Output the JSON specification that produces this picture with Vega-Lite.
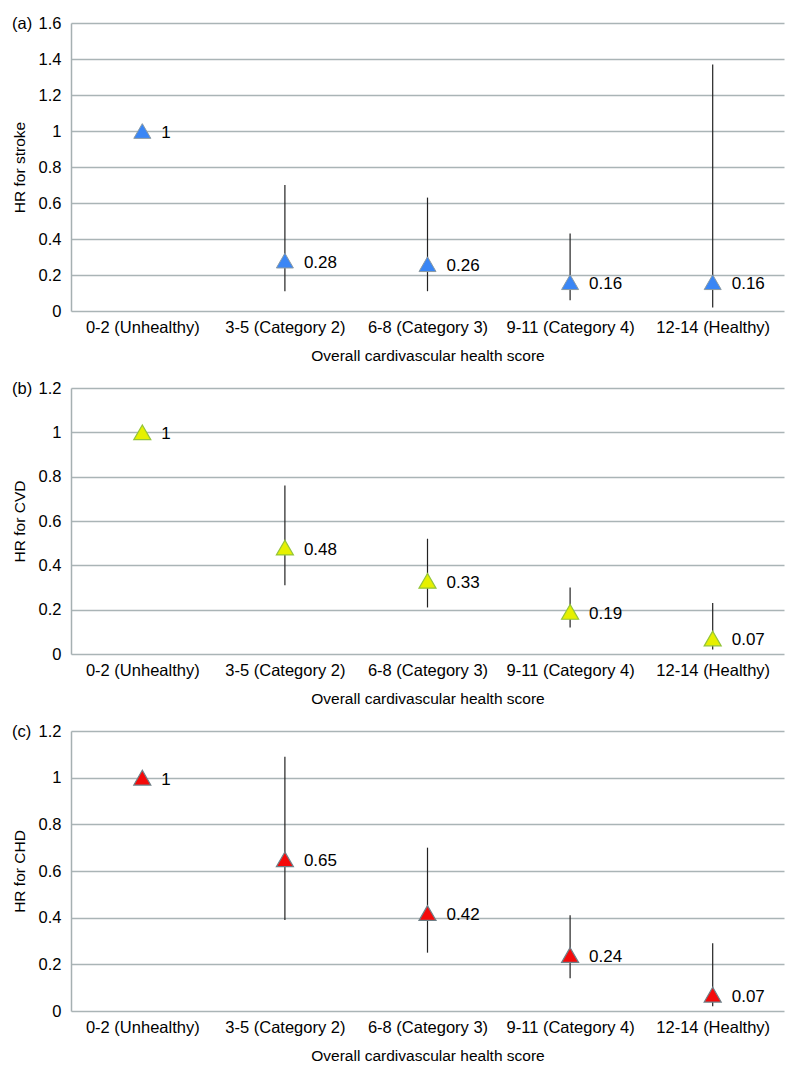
{
  "$schema": "https://vega.github.io/schema/vega-lite/v6.json",
  "background": "white",
  "padding": {"left": 12, "top": 15, "right": 14, "bottom": 5},
  "data": {"values": [
    {"outcome": "stroke", "category": "0-2 (Unhealthy)", "hr": 1, "lo": null, "hi": null},
    {"outcome": "stroke", "category": "3-5 (Category 2)", "hr": 0.28, "lo": 0.11, "hi": 0.70},
    {"outcome": "stroke", "category": "6-8 (Category 3)", "hr": 0.26, "lo": 0.11, "hi": 0.63},
    {"outcome": "stroke", "category": "9-11 (Category 4)", "hr": 0.16, "lo": 0.06, "hi": 0.43},
    {"outcome": "stroke", "category": "12-14 (Healthy)", "hr": 0.16, "lo": 0.02, "hi": 1.37},
    {"outcome": "CVD", "category": "0-2 (Unhealthy)", "hr": 1, "lo": null, "hi": null},
    {"outcome": "CVD", "category": "3-5 (Category 2)", "hr": 0.48, "lo": 0.31, "hi": 0.76},
    {"outcome": "CVD", "category": "6-8 (Category 3)", "hr": 0.33, "lo": 0.21, "hi": 0.52},
    {"outcome": "CVD", "category": "9-11 (Category 4)", "hr": 0.19, "lo": 0.12, "hi": 0.30},
    {"outcome": "CVD", "category": "12-14 (Healthy)", "hr": 0.07, "lo": 0.02, "hi": 0.23},
    {"outcome": "CHD", "category": "0-2 (Unhealthy)", "hr": 1, "lo": null, "hi": null},
    {"outcome": "CHD", "category": "3-5 (Category 2)", "hr": 0.65, "lo": 0.39, "hi": 1.09},
    {"outcome": "CHD", "category": "6-8 (Category 3)", "hr": 0.42, "lo": 0.25, "hi": 0.70},
    {"outcome": "CHD", "category": "9-11 (Category 4)", "hr": 0.24, "lo": 0.14, "hi": 0.41},
    {"outcome": "CHD", "category": "12-14 (Healthy)", "hr": 0.07, "lo": 0.02, "hi": 0.29}
  ]},
  "config": {
    "font": "Liberation Sans",
    "view": {"stroke": null},
    "title": {"fontSize": 16.5, "fontWeight": "normal", "color": "#000", "font": "Liberation Sans", "anchor": "start", "frame": "group", "orient": "top", "offset": 0, "baseline": "middle", "dx": -59, "dy": 21},
    "axisY": {"domainColor": "#a6b0b2", "domainWidth": 1.5, "ticks": false, "gridColor": "#aab4b6", "gridWidth": 1.5, "labelFontSize": 16.5, "labelColor": "#000", "labelPadding": 10, "labelOverlap": false, "titleFontSize": 15.5, "titleFontWeight": "normal", "titleColor": "#000", "titlePadding": 11, "format": ".1~f"},
    "axisX": {"domain": false, "ticks": false, "grid": false, "labelFontSize": 16.5, "labelColor": "#000", "labelPadding": 8, "labelAngle": 0, "titleFontSize": 15.5, "titleFontWeight": "normal", "titleColor": "#000", "titlePadding": 13}
  },
  "bounds": "flush",
  "spacing": 77,
  "vconcat": [
    {
      "title": {"text": "(a)"},
      "width": 713, "height": 288,
      "transform": [{"filter": "datum.outcome === 'stroke'"}],
      "encoding": {
        "x": {"field": "category", "type": "nominal", "sort": ["0-2 (Unhealthy)", "3-5 (Category 2)", "6-8 (Category 3)", "9-11 (Category 4)", "12-14 (Healthy)"], "scale": {"type": "point", "padding": 0.5}, "title": "Overall cardivascular health score"}
      },
      "layer": [
        {"mark": {"type": "rule", "color": "#222", "strokeWidth": 1.2},
         "encoding": {"y": {"field": "lo", "type": "quantitative", "scale": {"domain": [0, 1.6]}, "axis": {"values": [0, 0.2, 0.4, 0.6, 0.8, 1, 1.2, 1.4, 1.6]}, "title": "HR for stroke"}, "y2": {"field": "hi"}}},
        {"mark": {"type": "point", "shape": "triangle-up", "filled": true, "opacity": 1, "size": 290, "color": "#3a86f5", "stroke": "#8a9aa4", "strokeWidth": 1},
         "encoding": {"y": {"field": "hr", "type": "quantitative", "axis": {"values": [0, 0.2, 0.4, 0.6, 0.8, 1, 1.2, 1.4, 1.6]}, "title": "HR for stroke"}}},
        {"mark": {"type": "text", "align": "left", "baseline": "middle", "dx": 19, "dy": 2, "fontSize": 17, "color": "#000"},
         "encoding": {"y": {"field": "hr", "type": "quantitative", "axis": {"values": [0, 0.2, 0.4, 0.6, 0.8, 1, 1.2, 1.4, 1.6]}, "title": "HR for stroke"}, "text": {"field": "hr", "type": "quantitative", "format": ".2~f"}}}
      ]
    },
    {
      "title": {"text": "(b)"},
      "width": 713, "height": 266,
      "transform": [{"filter": "datum.outcome === 'CVD'"}],
      "encoding": {
        "x": {"field": "category", "type": "nominal", "sort": ["0-2 (Unhealthy)", "3-5 (Category 2)", "6-8 (Category 3)", "9-11 (Category 4)", "12-14 (Healthy)"], "scale": {"type": "point", "padding": 0.5}, "title": "Overall cardivascular health score"}
      },
      "layer": [
        {"mark": {"type": "rule", "color": "#222", "strokeWidth": 1.2},
         "encoding": {"y": {"field": "lo", "type": "quantitative", "scale": {"domain": [0, 1.2]}, "axis": {"values": [0, 0.2, 0.4, 0.6, 0.8, 1, 1.2]}, "title": "HR for CVD"}, "y2": {"field": "hi"}}},
        {"mark": {"type": "point", "shape": "triangle-up", "filled": true, "opacity": 1, "size": 290, "color": "#e6f000", "stroke": "#93c43a", "strokeWidth": 1.2},
         "encoding": {"y": {"field": "hr", "type": "quantitative", "axis": {"values": [0, 0.2, 0.4, 0.6, 0.8, 1, 1.2]}, "title": "HR for CVD"}}},
        {"mark": {"type": "text", "align": "left", "baseline": "middle", "dx": 19, "dy": 2, "fontSize": 17, "color": "#000"},
         "encoding": {"y": {"field": "hr", "type": "quantitative", "axis": {"values": [0, 0.2, 0.4, 0.6, 0.8, 1, 1.2]}, "title": "HR for CVD"}, "text": {"field": "hr", "type": "quantitative", "format": ".2~f"}}}
      ]
    },
    {
      "title": {"text": "(c)"},
      "width": 713, "height": 280,
      "transform": [{"filter": "datum.outcome === 'CHD'"}],
      "encoding": {
        "x": {"field": "category", "type": "nominal", "sort": ["0-2 (Unhealthy)", "3-5 (Category 2)", "6-8 (Category 3)", "9-11 (Category 4)", "12-14 (Healthy)"], "scale": {"type": "point", "padding": 0.5}, "title": "Overall cardivascular health score"}
      },
      "layer": [
        {"mark": {"type": "rule", "color": "#222", "strokeWidth": 1.2},
         "encoding": {"y": {"field": "lo", "type": "quantitative", "scale": {"domain": [0, 1.2]}, "axis": {"values": [0, 0.2, 0.4, 0.6, 0.8, 1, 1.2]}, "title": "HR for CHD"}, "y2": {"field": "hi"}}},
        {"mark": {"type": "point", "shape": "triangle-up", "filled": true, "opacity": 1, "size": 290, "color": "#f50a0a", "stroke": "#6f8088", "strokeWidth": 1.2},
         "encoding": {"y": {"field": "hr", "type": "quantitative", "axis": {"values": [0, 0.2, 0.4, 0.6, 0.8, 1, 1.2]}, "title": "HR for CHD"}}},
        {"mark": {"type": "text", "align": "left", "baseline": "middle", "dx": 19, "dy": 2, "fontSize": 17, "color": "#000"},
         "encoding": {"y": {"field": "hr", "type": "quantitative", "axis": {"values": [0, 0.2, 0.4, 0.6, 0.8, 1, 1.2]}, "title": "HR for CHD"}, "text": {"field": "hr", "type": "quantitative", "format": ".2~f"}}}
      ]
    }
  ]
}
